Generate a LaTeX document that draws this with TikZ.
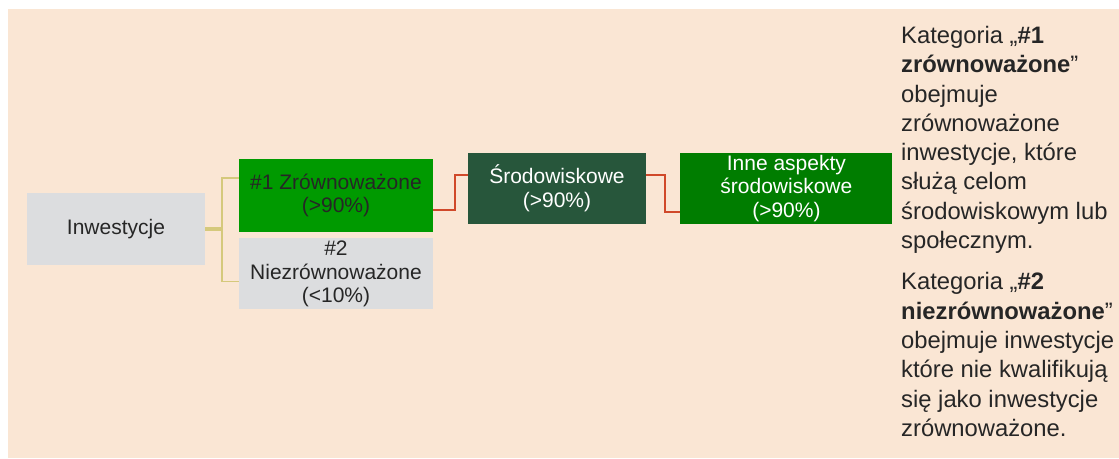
\documentclass[tikz,border=0pt]{standalone}
\usepackage{fontspec}
\setmainfont{Liberation Sans}
\usetikzlibrary{positioning}

\definecolor{bgpeach}{HTML}{FAE6D4}
\definecolor{boxgrey}{HTML}{DCDDDF}
\definecolor{brightgreen}{HTML}{009A00}
\definecolor{darkgreen}{HTML}{27563B}
\definecolor{midgreen}{HTML}{007D00}
\definecolor{linkred}{HTML}{D0492A}
\definecolor{linkolive}{HTML}{D5C97C}
\definecolor{textdark}{HTML}{262626}

\begin{document}
\begin{tikzpicture}[
    x=1pt, y=-1pt,
    box/.style={rectangle, inner sep=0pt, align=center, text=textdark,
        font=\fontsize{21}{23.5}\selectfont},
    greybox/.style={box, fill=boxgrey},
    whitetext/.style={box, text=white},
    redlink/.style={draw=linkred, line width=1.6pt},
    olivelink/.style={draw=linkolive, line width=1.5pt}
]
    \useasboundingbox (0,0) rectangle (1119,458);
    \fill[bgpeach] (8,9) rectangle (1119,458);

    \node[greybox, minimum width=178pt, minimum height=72pt] (inw) at (116,229) {Inwestycje};
    \node[box, fill=brightgreen, minimum width=194pt, minimum height=73pt] (zr) at (336,195.5)
        {\#1 Zrównoważone\\(>90\%)};
    \node[greybox, minimum width=194pt, minimum height=71pt, below=6pt of zr] (nz)
        {\#2\\Niezrównoważone\\(<10\%)};
    \node[whitetext, fill=darkgreen, minimum width=178pt, minimum height=71pt] (srod) at (557,188.5)
        {Środowiskowe\\(>90\%)};
    \node[whitetext, fill=midgreen, minimum width=212pt, minimum height=71pt, right=34pt of srod] (inne)
        {Inne aspekty\\środowiskowe\\(>90\%)};

    % fork from Inwestycje
    \coordinate (fork) at (222,229);
    \draw[olivelink, line width=4pt] (inw.east) -- (fork);
    \draw[olivelink] ([yshift=17.5pt]zr.west) -| (fork) |- ([yshift=-7.5pt]nz.west);

    % chain to the right
    \draw[redlink] ([yshift=-14.5pt]zr.east) -- ++(22,0) |- ([yshift=13.5pt]srod.west);
    \draw[redlink] ([yshift=13.5pt]srod.east) -- ++(19,0) |- ([yshift=-23.5pt]inne.west);

    \node[anchor=north west, inner sep=0pt, align=left, text=textdark,
        font=\fontsize{23.8}{29.3}\selectfont] (note) at (901,26)
        {Kategoria „\textbf{\#1}\\
         \textbf{zrównoważone}”\\
         obejmuje\\
         zrównoważone\\
         inwestycje, które\\
         służą celom\\
         środowiskowym lub\\
         społecznym.\\[12pt]
         Kategoria „\textbf{\#2}\\
         \textbf{niezrównoważone}”\\
         obejmuje inwestycje\\
         które nie kwalifikują\\
         się jako inwestycje\\
         zrównoważone.};
\end{tikzpicture}
\end{document}
